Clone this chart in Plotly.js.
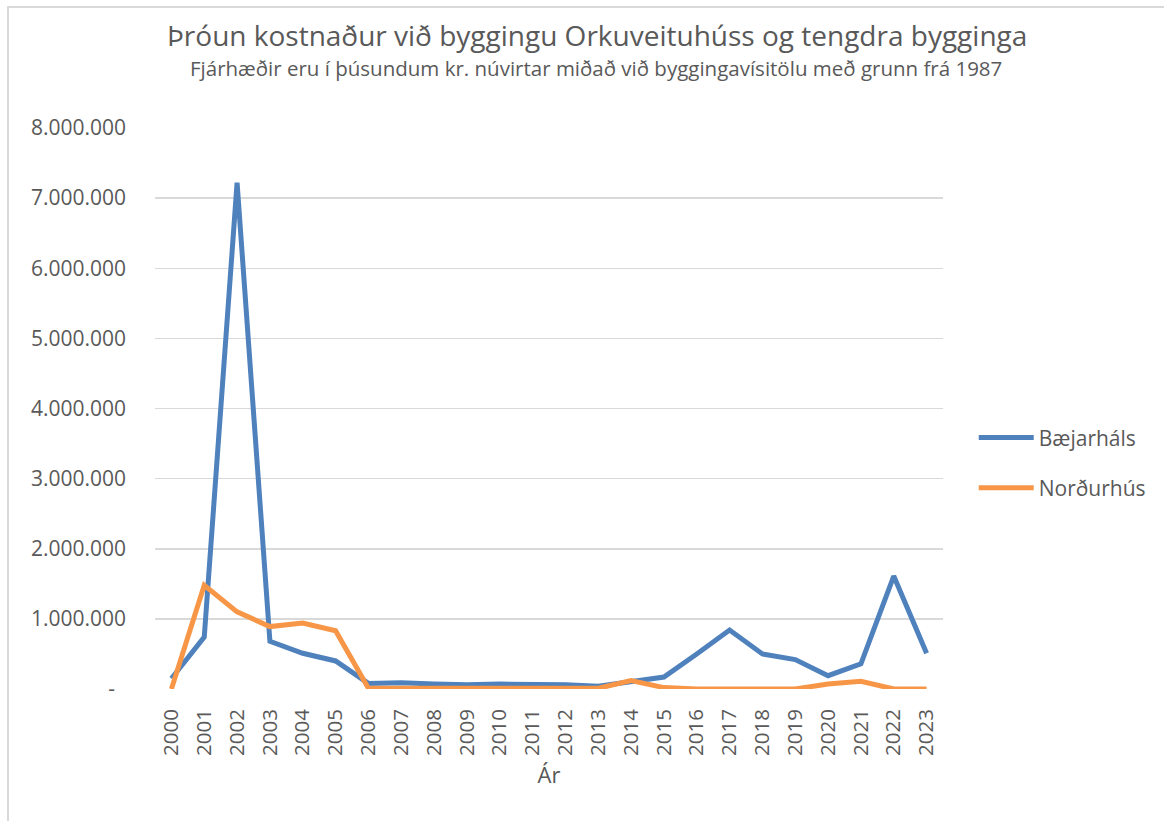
<!DOCTYPE html>
<html>
<head>
<meta charset="utf-8">
<script src="https://cdn.plot.ly/plotly-3.0.1.min.js"></script>
<style>
html,body{margin:0;padding:0;background:#fff;}
#frame{position:absolute;left:7px;top:6px;width:1200px;height:900px;border-left:2px solid #d9d9d9;border-top:2px solid #d9d9d9;}
#chart{position:absolute;left:0;top:0;width:1164px;height:821px;}
</style>
</head>
<body>
<div id="frame"></div>
<div id="chart"></div>
<script>
const years = ["2000","2001","2002","2003","2004","2005","2006","2007","2008","2009","2010","2011","2012","2013","2014","2015","2016","2017","2018","2019","2020","2021","2022","2023"];
const baejarhals = [150000,740000,7220000,680000,510000,400000,80000,90000,70000,60000,70000,70000,60000,40000,100000,170000,500000,840000,500000,420000,190000,360000,1610000,510000];
const nordurhus = [0,1480000,1100000,890000,940000,830000,10000,10000,10000,10000,10000,20000,10000,10000,120000,20000,0,0,0,0,70000,110000,0,0];
const yTickVals = [0,1000000,2000000,3000000,4000000,5000000,6000000,7000000,8000000];
const yTickText = ["-&nbsp;&nbsp;","1.000.000","2.000.000","3.000.000","4.000.000","5.000.000","6.000.000","7.000.000","8.000.000"];
const titleText = "Þróun kostnaður við byggingu Orkuveituhúss og tengdra bygginga";
const subtitleText = "Fjárhæðir eru í þúsundum kr. núvirtar miðað við byggingavísitölu með grunn frá 1987";

const font = "Open Sans, Noto Sans, sans-serif";
const traces = [
  {x: years, y: baejarhals, name: "Bæjarháls", type: "scatter", mode: "lines", legendgroup: "a",
   line: {color: "#4f81bd", width: 5}},
  {x: years, y: nordurhus, name: "Norðurhús", type: "scatter", mode: "lines", legendgroup: "b",
   line: {color: "#f79646", width: 5}}
];
const layout = {
  width: 1164, height: 821,
  paper_bgcolor: "rgba(0,0,0,0)", plot_bgcolor: "rgba(0,0,0,0)",
  margin: {l: 155, r: 221, t: 128, b: 132},
  font: {family: font, color: "#595959"},
  annotations: [
    {text: titleText, xref: "paper", yref: "paper", x: (597 - 155) / 788, y: (689 - 35) / 561, xanchor: "center", yanchor: "middle",
     showarrow: false, font: {size: 28, color: "#595959", family: font}},
    {text: subtitleText, xref: "paper", yref: "paper", x: (596 - 155) / 788, y: (689 - 68) / 561, xanchor: "center", yanchor: "middle",
     showarrow: false, font: {size: 20.5, color: "#595959", family: font}}
  ],
  xaxis: {type: "category", range: [-0.5, 23.5], tickangle: -90, showgrid: false, zeroline: false,
          ticks: "", showline: false, tickfont: {size: 20.5, color: "#595959"}, ticklabelstandoff: 15,
          title: {text: "Ár", font: {size: 22, color: "#595959"}, standoff: 12}},
  yaxis: {range: [0, 8000000], tickvals: yTickVals, ticktext: yTickText, showgrid: true,
          gridcolor: "#d9d9d9", gridwidth: 1.5, zeroline: false, ticks: "", showline: false,
          tickfont: {size: 21, color: "#595959"}, ticklabelstandoff: 28},
  legend: {x: 1.039, y: 0.403, xanchor: "left", yanchor: "middle", font: {size: 21, color: "#595959"},
           itemwidth: 55, traceorder: "grouped", tracegroupgap: 20, bgcolor: "rgba(0,0,0,0)"},
  showlegend: true
};
Plotly.newPlot("chart", traces, layout, {displayModeBar: false, staticPlot: true});
</script>
</body>
</html>
